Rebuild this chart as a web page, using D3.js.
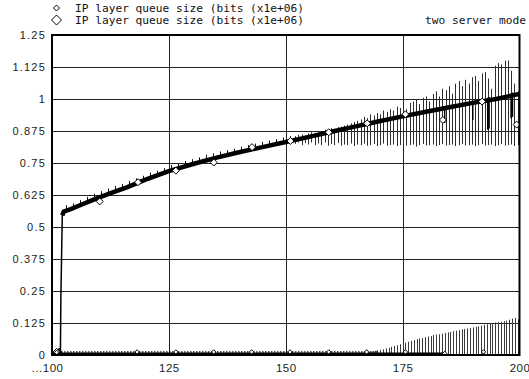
<!DOCTYPE html>
<html><head><meta charset="utf-8">
<script src="https://cdn.jsdelivr.net/npm/d3@7/dist/d3.min.js"></script>
<style>body{margin:0;background:#fff}svg{display:block}</style>
</head><body>
<svg id="c" width="529" height="379"></svg>
<script>
// ---- data ----
const legendLabels = ["IP layer queue size (bits (x1e+06)", "IP layer queue size (bits (x1e+06)"];
const title = "two server mode";
const xTicks = [100, 125, 150, 175, 200];
const xTickLabels = ["...100", "125", "150", "175", "200"];
const yTicks = [0, 0.125, 0.25, 0.375, 0.5, 0.625, 0.75, 0.875, 1, 1.125, 1.25];
const yTickLabels = ["0", "0.125", "0.25", "0.375", "0.5", "0.625", "0.75", "0.875", "1", "1.125", "1.25"];

// upper series: trend
const aX = [100, 101, 101.8, 101.9, 102.2, 102.5, 104, 106, 108, 110, 113, 116, 120, 125, 130, 135, 140, 145, 150, 155, 160, 165, 170, 175, 180, 185, 190, 195, 200];
const aY = [0, 0, 0.01, 0.23, 0.545, 0.56, 0.57, 0.585, 0.6, 0.615, 0.635, 0.655, 0.685, 0.718, 0.745, 0.77, 0.792, 0.812, 0.832, 0.852, 0.873, 0.893, 0.913, 0.932, 0.95, 0.968, 0.985, 1.0, 1.02];
// upper series: oscillation extents
const spX = [103, 104.5, 106, 107.5, 109, 110.5, 112, 113.5, 115, 116.5, 118, 119.5, 121, 122.5, 124, 125.5, 127, 128.5, 130, 131.5, 133, 134.5, 136, 137.5, 139, 140.5, 142, 143.5, 145, 146.5, 148, 149.5, 151,
  152.0, 152.7, 153.4, 154.1, 154.8, 155.5, 156.2, 156.9, 157.6, 158.3, 159.0, 159.7, 160.4, 161.1, 161.8, 162.5, 163.2, 163.9, 164.6, 165.3, 166.0, 166.7, 167.4, 168.1, 168.8, 169.5, 170.2, 170.9, 171.6, 172.3, 173.0, 173.7, 174.4, 175.1, 175.8, 176.5, 177.2, 177.9, 178.6, 179.3, 180.0, 180.7, 181.4, 182.1, 182.8, 183.5, 184.2, 184.9, 185.6, 186.3, 187.0, 187.7, 188.4, 189.1, 189.8, 190.5, 191.2, 191.9, 192.6, 193.3, 194.0, 194.7, 195.4, 196.1, 196.8, 197.5, 198.2, 198.9, 199.6];
const spLo = [0.565, 0.572, 0.585, 0.596, 0.607, 0.618, 0.628, 0.638, 0.648, 0.66, 0.67, 0.681, 0.691, 0.70, 0.712, 0.72, 0.729, 0.737, 0.745, 0.752, 0.76, 0.768, 0.774, 0.781, 0.788, 0.794, 0.80, 0.806, 0.812, 0.818, 0.824, 0.83, 0.835,
  0.825, 0.83, 0.82, 0.828, 0.822, 0.83, 0.82, 0.826, 0.82, 0.83, 0.818, 0.824, 0.82, 0.828, 0.818, 0.822, 0.82, 0.826, 0.816, 0.822, 0.82, 0.826, 0.818, 0.82, 0.824, 0.816, 0.82, 0.826, 0.818, 0.82, 0.822, 0.816, 0.82, 0.824, 0.818, 0.82, 0.822, 0.814, 0.82, 0.824, 0.818, 0.82, 0.822, 0.816, 0.82, 0.824, 0.818, 0.82, 0.822, 0.816, 0.82, 0.824, 0.818, 0.82, 0.822, 0.816, 0.82, 0.824, 0.818, 0.82, 0.822, 0.816, 0.82, 0.824, 0.818, 0.82, 0.822, 0.816, 0.82];
const spHi = [0.585, 0.592, 0.605, 0.618, 0.63, 0.64, 0.65, 0.66, 0.668, 0.68, 0.69, 0.70, 0.712, 0.72, 0.73, 0.742, 0.75, 0.758, 0.765, 0.772, 0.782, 0.788, 0.795, 0.80, 0.806, 0.814, 0.82, 0.826, 0.832, 0.838, 0.843, 0.85, 0.855,
  0.855, 0.86, 0.862, 0.858, 0.866, 0.87, 0.868, 0.874, 0.872, 0.88, 0.878, 0.886, 0.884, 0.89, 0.892, 0.896, 0.9, 0.905, 0.91, 0.915, 0.92, 0.93, 0.925, 0.94, 0.935, 0.945, 0.94, 0.955, 0.95, 0.96, 0.955, 0.97, 0.965, 0.975, 0.96, 0.985, 0.99, 1.0, 0.98, 1.005, 1.01, 0.99, 1.02, 1.03, 1.01, 1.04, 1.035, 1.05, 1.02, 1.06, 1.07, 1.05, 1.075, 1.06, 1.085, 1.09, 1.07, 1.1, 1.105, 1.08, 1.04, 1.13, 1.14, 1.135, 1.15, 1.15, 1.11, 1.06, 1.03];
// upper series: deep dips
const dipX = [184.0, 190.0, 193.2, 193.5, 198.2, 198.5];
const dipLo = [0.906, 0.918, 0.88, 0.885, 0.925, 0.93];
const dipHi = [0.97, 0.985, 1.005, 1.008, 1.02, 1.025];
// upper series markers
const aMarkX = [101.0, 110.2, 118.4, 126.5, 134.6, 142.8, 151.0, 159.2, 167.4, 175.6, 183.6, 192.0, 199.4];
const aMarkY = [0.012, 0.6, 0.675, 0.72, 0.752, 0.812, 0.836, 0.87, 0.905, 0.94, 0.918, 0.99, 0.9];

// lower series
const bX = [100, 101.5, 102, 184];
const bY = [0, 0.02, 0.004, 0.004];
const barX = [166.0, 166.6, 167.2, 167.8, 168.4, 169.0, 169.6, 170.2, 170.8, 171.4, 172.0, 172.6, 173.2, 173.8, 174.4, 175.0, 175.6, 176.2, 176.8, 177.4, 178.0, 178.6, 179.2, 179.8, 180.4, 181.0, 181.6, 182.2, 182.8, 183.4, 184.0, 184.6, 185.2, 185.8, 186.4, 187.0, 187.6, 188.2, 188.8, 189.4, 190.0, 190.6, 191.2, 191.8, 192.4, 193.0, 193.6, 194.2, 194.8, 195.4, 196.0, 196.6, 197.2, 197.8, 198.4, 199.0, 199.6];
const barHi = [0.006, 0.008, 0.01, 0.012, 0.014, 0.016, 0.018, 0.02, 0.022, 0.026, 0.028, 0.032, 0.035, 0.038, 0.042, 0.046, 0.048, 0.052, 0.055, 0.058, 0.062, 0.064, 0.066, 0.07, 0.072, 0.074, 0.078, 0.08, 0.081, 0.083, 0.086, 0.088, 0.09, 0.093, 0.095, 0.097, 0.1, 0.102, 0.104, 0.106, 0.108, 0.11, 0.112, 0.115, 0.118, 0.12, 0.124, 0.125, 0.127, 0.128, 0.13, 0.132, 0.134, 0.138, 0.142, 0.145, 0.14];
const bMarkX = [101.0, 118.2, 126.5, 134.6, 142.7, 150.9, 159.2, 167.3, 175.6, 184.0, 192.3];
const bMarkY = [0.01, 0.012, 0.012, 0.012, 0.012, 0.012, 0.012, 0.012, 0.012, 0.006, 0.012];

// ---- drawing ----
const svg = d3.select("#c");
const L = 52, R = 519.5, T = 35, B = 355;
const x = d3.scaleLinear().domain([100, 200]).range([L, R]);
const y = d3.scaleLinear().domain([0, 1.25]).range([B, T]);

// grid
const g = svg.append("g");
g.selectAll("line.h").data(yTicks.slice(1, -1)).join("line")
  .attr("x1", L).attr("x2", R).attr("y1", d => Math.round(y(d)) + 0.5).attr("y2", d => Math.round(y(d)) + 0.5)
  .attr("stroke", "#222").attr("stroke-width", 1);
g.selectAll("line.v").data(xTicks.slice(1, -1)).join("line")
  .attr("y1", T).attr("y2", B).attr("x1", d => Math.round(x(d)) + 0.5).attr("x2", d => Math.round(x(d)) + 0.5)
  .attr("stroke", "#222").attr("stroke-width", 1);

// axes labels via d3 axes
const yAxis = d3.axisLeft(y).tickValues(yTicks).tickSize(0).tickPadding(6)
  .tickFormat((d, i) => yTickLabels[i]);
const ya = svg.append("g").attr("transform", `translate(${L},0)`).call(yAxis);
ya.select(".domain").remove();
ya.selectAll("text").attr("font-family", "Liberation Sans, Arial, sans-serif").attr("font-size", 11)
  .attr("letter-spacing", "1.2px").attr("fill", "#222");

const xAxis = d3.axisBottom(x).tickValues(xTicks).tickSize(0).tickPadding(9)
  .tickFormat((d, i) => xTickLabels[i]);
const xa = svg.append("g").attr("transform", `translate(0,${B})`).call(xAxis);
xa.select(".domain").remove();
xa.selectAll("text").attr("font-family", "Liberation Sans, Arial, sans-serif").attr("font-size", 11.5)
  .attr("letter-spacing", "0.5px").attr("fill", "#222")
  .attr("text-anchor", (d, i) => i === 0 ? "end" : "middle")
  .attr("dx", (d, i) => i === 0 ? "11" : "0");

// clip
svg.append("clipPath").attr("id", "pc").append("rect").attr("x", L).attr("y", T - 2).attr("width", R - L).attr("height", B - T + 2);
const p = svg.append("g").attr("clip-path", "url(#pc)");

// lower series bars
p.selectAll("line.bar").data(barX).join("line")
  .attr("x1", d => Math.round(x(d)) + 0.5).attr("x2", d => Math.round(x(d)) + 0.5)
  .attr("y1", y(0)).attr("y2", (d, i) => y(barHi[i]))
  .attr("stroke", "#3a3a3a").attr("stroke-width", 1);
const line = d3.line().x(d => x(d[0])).y(d => y(d[1]));
p.append("path").datum(bX.map((v, i) => [v, bY[i]])).attr("d", line)
  .attr("fill", "none").attr("stroke", "#000").attr("stroke-width", 3);
p.append("path").datum([[102, 0.012], [170, 0.012]]).attr("d", line)
  .attr("fill", "none").attr("stroke", "#000").attr("stroke-width", 2).attr("stroke-dasharray", "1,2");

// upper spikes
p.selectAll("line.sp").data(spX).join("line")
  .attr("x1", d => Math.round(x(d)) + 0.5).attr("x2", d => Math.round(x(d)) + 0.5)
  .attr("y1", (d, i) => y(spLo[i])).attr("y2", (d, i) => y(spHi[i]))
  .attr("stroke", (d) => d < 152 ? "#111" : "#2e2e2e").attr("stroke-width", 1);

// upper trend
const aPts = aX.map((v, i) => [v, aY[i]]);
p.append("path").datum(aPts).attr("d", line)
  .attr("fill", "none").attr("stroke", "#000").attr("stroke-width", 1.5);
p.append("path").datum(aPts.filter(d => d[0] >= 102.2)).attr("d", line)
  .attr("fill", "none").attr("stroke", "#000").attr("stroke-width", 4.5)
  .attr("stroke-linejoin", "round");

// dips
p.selectAll("line.dip").data(dipX).join("line")
  .attr("x1", d => x(d)).attr("x2", d => x(d))
  .attr("y1", (d, i) => y(dipLo[i])).attr("y2", (d, i) => y(dipHi[i]))
  .attr("stroke", "#000").attr("stroke-width", 1.5);

// markers
const diamond = (s) => `M0,${-s}L${s},0L0,${s}L${-s},0Z`;
p.selectAll("path.am").data(aMarkX).join("path")
  .attr("d", diamond(3.5)).attr("transform", (d, i) => `translate(${x(d)},${y(aMarkY[i])})`)
  .attr("fill", "#fff").attr("stroke", "#000").attr("stroke-width", 1);
p.selectAll("path.bm").data(bMarkX).join("path")
  .attr("d", diamond(2.2)).attr("transform", (d, i) => `translate(${x(d)},${y(bMarkY[i])})`)
  .attr("fill", "#fff").attr("stroke", "#000").attr("stroke-width", 1);

// frame
svg.append("rect").attr("x", L).attr("y", T).attr("width", R - L).attr("height", B - T)
  .attr("fill", "none").attr("stroke", "#000").attr("stroke-width", 2);

// legend
const mono = "DejaVu Sans Mono, Liberation Mono, monospace";
svg.append("path").attr("d", diamond(3)).attr("transform", "translate(56.5,8)")
  .attr("fill", "none").attr("stroke", "#000").attr("stroke-width", 1);
svg.append("path").attr("d", diamond(5)).attr("transform", "translate(56.5,20)")
  .attr("fill", "none").attr("stroke", "#000").attr("stroke-width", 1);
svg.selectAll("text.leg").data(legendLabels).join("text")
  .attr("x", 75).attr("y", (d, i) => 12 + i * 12).text(d => d)
  .attr("font-family", mono).attr("font-size", 11.2).attr("fill", "#111");
svg.append("text").attr("x", 425).attr("y", 24).text(title)
  .attr("font-family", mono).attr("font-size", 11.2).attr("fill", "#111");
</script>
</body></html>
